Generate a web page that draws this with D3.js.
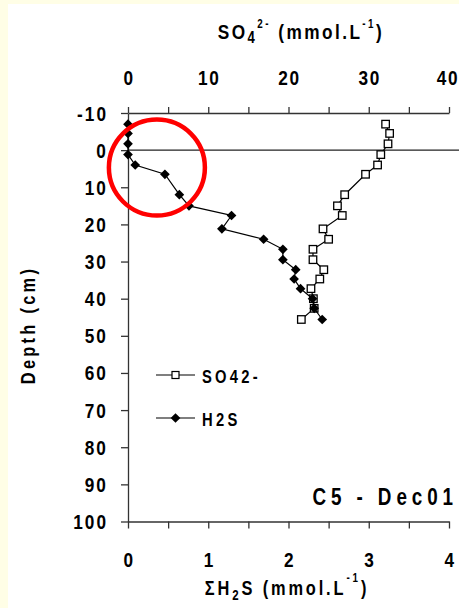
<!DOCTYPE html>
<html>
<head>
<meta charset="utf-8">
<script src="https://cdn.jsdelivr.net/npm/d3@7"></script>
<style>
  html, body { margin: 0; padding: 0; background: #fffee6; }
  svg { display: block; }
  text { font-family: "Liberation Sans", Arial, Helvetica, sans-serif; font-weight: bold; fill: #000; }
</style>
</head>
<body>
<svg id="chart" width="459" height="608"></svg>
<script>
// Porewater profile, core C5, December 2001
const depths = [-7, -4.5, -1.7, 1.2, 4, 6.5, 12, 15, 17.6, 21.2, 24, 26.7, 29.5, 32.2, 34.7, 37.3, 40, 42.6, 45.6];
const so4 = [32.1, 32.6, 32.4, 31.5, 31.1, 29.6, 27.0, 26.1, 26.7, 24.3, 25.0, 23.05, 23.05, 24.4, 23.9, 22.8, 23.1, 23.2, 21.6];
const h2s = [0, 0, 0, 0, 0.09, 0.46, 0.64, 0.76, 1.29, 1.17, 1.69, 1.93, 1.93, 2.09, 2.07, 2.15, 2.30, 2.32, 2.42];

const so4Ticks = [0, 10, 20, 30, 40];
const h2sTicks = [0, 1, 2, 3, 4];
const depthTicks = [-10, 0, 10, 20, 30, 40, 50, 60, 70, 80, 90, 100];
const seriesNames = ["SO42-", "H2S"];
const stationLabel = "C5 - Dec01";

// highlighted zone (H2S units, depth in cm)
const highlight = { h2s: 0.36, depth: 4.7 };

const svg = d3.select("#chart");
const W = 459, H = 608;
const SX = 0.82; // narrow bold lettering

svg.append("rect").attr("x", 8).attr("y", 4).attr("width", W - 8).attr("height", H - 4).attr("fill", "#fff");

const xS = d3.scaleLinear().domain([0, 40]).range([128, 449]);
const xH = d3.scaleLinear().domain([0, 4]).range([128, 449]);
const y = d3.scaleLinear().domain([-10, 100]).range([113, 521.5]);

const axisColor = "#333";

function styleAxis(g) {
  g.select(".domain").attr("stroke", axisColor).attr("stroke-width", 1.3);
  g.selectAll(".tick line").attr("stroke", axisColor).attr("stroke-width", 1.3);
  g.selectAll(".tick text").remove();
}

// top axis: sulfate
svg.append("g").attr("transform", `translate(0,${y(-10)})`)
  .call(d3.axisTop(xS).tickValues(d3.range(0, 41, 5)).tickSize(6).tickSizeOuter(0))
  .call(styleAxis);

// bottom axis: total sulfide
svg.append("g").attr("transform", `translate(0,${y(100)})`)
  .call(d3.axisBottom(xH).tickValues(d3.range(0, 4.01, 0.5)).tickSize(7).tickSizeOuter(0))
  .call(styleAxis);

// left axis: depth
svg.append("g").attr("transform", `translate(${xS(0)},0)`)
  .call(d3.axisLeft(y).tickValues(depthTicks).tickSize(7).tickSizeOuter(0))
  .call(styleAxis);

function txt(parent, x, yy, anchor, size, ls) {
  return parent.append("text")
    .attr("transform", `translate(${x},${yy}) scale(${SX},1)`)
    .attr("text-anchor", anchor)
    .style("font-size", size + "px")
    .style("letter-spacing", ls + "px");
}

// tick labels
so4Ticks.forEach(v => txt(svg, xS(v) + (v === 40 ? -1 : 1), 85, "middle", 21, 2).text(v));
h2sTicks.forEach(v => txt(svg, xH(v) + 1, 567, "middle", 21, 2).text(v));
depthTicks.forEach(v => txt(svg, 108, y(v) + 7.5, "end", 21, 2.5).text(v));

// sediment-water interface
svg.append("line").attr("x1", xS(0)).attr("x2", W).attr("y1", y(0)).attr("y2", y(0))
  .attr("stroke", "#222").attr("stroke-width", 1.4);

// axis titles
const tTop = txt(svg, 301, 39, "middle", 21, 3);
tTop.append("tspan").text("SO");
tTop.append("tspan").attr("dy", 4).style("font-size", "16px").text("4");
tTop.append("tspan").attr("dy", -15).style("font-size", "12px").text("2-");
tTop.append("tspan").attr("dy", 11).text(" (mmol.L");
tTop.append("tspan").attr("dy", -11).style("font-size", "12px").text("-1");
tTop.append("tspan").attr("dy", 11).text(")");

const tBot = txt(svg, 287, 595, "middle", 20, 3.5);
tBot.append("tspan").text("ΣH");
tBot.append("tspan").attr("dy", 5).style("font-size", "14px").text("2");
tBot.append("tspan").attr("dy", -5).text("S (mmol.L");
tBot.append("tspan").attr("dy", -13).style("font-size", "12px").text("-1");
tBot.append("tspan").attr("dy", 13).text(")");

svg.append("text")
  .attr("transform", `translate(35,325) rotate(-90) scale(${SX},1)`)
  .attr("text-anchor", "middle")
  .style("font-size", "20px").style("letter-spacing", "4px")
  .text("Depth (cm)");

// station label
txt(svg, 458, 505, "end", 23, 6).text(stationLabel);

// series
const rows = depths.map((d, i) => ({ d, s: so4[i], h: h2s[i] }));

const lineS = d3.line().x(r => xS(r.s)).y(r => y(r.d));
const lineH = d3.line().x(r => xH(r.h)).y(r => y(r.d));

svg.append("path").attr("d", lineS(rows)).attr("fill", "none").attr("stroke", "#000").attr("stroke-width", 1.2);
const sq = 7.5;
svg.selectAll(".sq").data(rows).join("rect").attr("class", "sq")
  .attr("x", r => xS(r.s) - sq / 2).attr("y", r => y(r.d) - sq / 2)
  .attr("width", sq).attr("height", sq)
  .attr("fill", "#fff").attr("stroke", "#000").attr("stroke-width", 1.3);

svg.append("path").attr("d", lineH(rows)).attr("fill", "none").attr("stroke", "#000").attr("stroke-width", 1.2);
const diamond = d3.symbol().type(d3.symbolDiamond2).size(60);
svg.selectAll(".dm").data(rows).join("path").attr("class", "dm")
  .attr("transform", r => `translate(${xH(r.h)},${y(r.d)})`)
  .attr("d", diamond).attr("fill", "#000");

// legend
const leg = svg.append("g");
[[375, "sq"], [418, "dm"]].forEach(([ly, kind], i) => {
  leg.append("line").attr("x1", 156).attr("x2", 195).attr("y1", ly).attr("y2", ly)
    .attr("stroke", "#000").attr("stroke-width", 1.2);
  if (kind === "sq") {
    leg.append("rect").attr("x", 175.5 - 3.5).attr("y", ly - 3.5).attr("width", 7).attr("height", 7)
      .attr("fill", "#fff").attr("stroke", "#000").attr("stroke-width", 1.2);
  } else {
    leg.append("path").attr("transform", `translate(175.5,${ly})`).attr("d", diamond).attr("fill", "#000");
  }
  txt(leg, 202, ly + 8, "start", 18, 4).text(seriesNames[i]);
});

// highlight ring
svg.append("circle")
  .attr("cx", xH(highlight.h2s)).attr("cy", y(highlight.depth)).attr("r", 48)
  .attr("fill", "none").attr("stroke", "#f00").attr("stroke-width", 4.5);
</script>
</body>
</html>
